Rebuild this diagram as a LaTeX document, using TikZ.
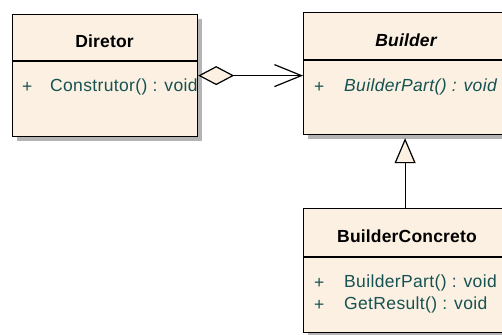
\documentclass[tikz,border=0pt]{standalone}
\usepackage{fontspec}
\setmainfont{Liberation Sans}
\usetikzlibrary{arrows.meta,shadows}
\definecolor{boxfill}{RGB}{251,240,225}
\definecolor{membertext}{RGB}{22,82,82}
\definecolor{shadowgray}{RGB}{180,180,180}
\newfontfamily\namefont[LetterSpace=1]{Liberation Sans}
\newfontfamily\memberfont[LetterSpace=2]{Liberation Sans}
\tikzset{
  classbox/.style={draw=black, line width=1.2pt, fill=boxfill, rectangle, inner sep=0pt,
    anchor=north west,
    drop shadow={shadow xshift=4pt, shadow yshift=-4pt, fill=shadowgray, opacity=1}},
  divider/.style={line width=1.2pt},
  classname/.style={font=\namefont\fontsize{17.5}{20}\selectfont\bfseries, text=black, inner sep=0pt},
  member/.style={font=\memberfont\fontsize{17.5}{20}\selectfont, text=membertext, inner sep=0pt, anchor=west},
  conn/.style={line width=1.2pt, draw=black},
}
\begin{document}
\begin{tikzpicture}[x=1pt,y=-1pt]
\useasboundingbox (0,0) rectangle (502,334);
\clip (0,0) rectangle (502,334);

% class boxes
\node[classbox, minimum width=185pt, minimum height=122pt] (diretor) at (12,14) {};
\node[classbox, minimum width=203pt, minimum height=122pt] (builder) at (303,12) {};
\node[classbox, minimum width=203pt, minimum height=124pt] (concreto) at (303,208) {};

% compartment dividers
\draw[divider] (12,61) -- (197,61);
\draw[divider] (303,60) -- (506,60);
\draw[divider] (303,257) -- (506,257);

% Diretor
\node[classname] (diretorName) at (104.5,41) {Diretor};
\node[member] (diretorVis) at (22,87) {+};
\node[member] (diretorOp) at (50,87) {Construtor() : void};

% Builder (abstract)
\node[classname, font=\namefont\fontsize{17.5}{20}\selectfont\bfseries\itshape] (builderName) at (406,40) {Builder};
\node[member] (builderVis) at (314,87) {+};
\node[member, font=\memberfont\fontsize{17.5}{20}\selectfont\itshape] (builderOp) at (344,87) {BuilderPart() : void};

% BuilderConcreto
\node[classname] (concretoName) at (407,236) {BuilderConcreto};
\node[member] (concretoVis1) at (314,283) {+};
\node[member] (concretoOp1) at (344,283) {BuilderPart() : void};
\node[member] (concretoVis2) at (314,305) {+};
\node[member] (concretoOp2) at (344,305) {GetResult() : void};

% aggregation Diretor -> Builder
\draw[conn, {Diamond[length=36pt,width=19pt,fill=boxfill,line width=1.2pt]}-{Straight Barb[length=27pt,width=22pt,line width=1.2pt]}]
  (diretor.east) -- (diretor.east -| builder.west);

% generalisation BuilderConcreto -> Builder
\draw[conn, -{Triangle[length=25pt,width=21pt,fill=boxfill,line width=1.2pt]}]
  (concreto.north) -- ([yshift=-3pt]builder.south);
\end{tikzpicture}
\end{document}
